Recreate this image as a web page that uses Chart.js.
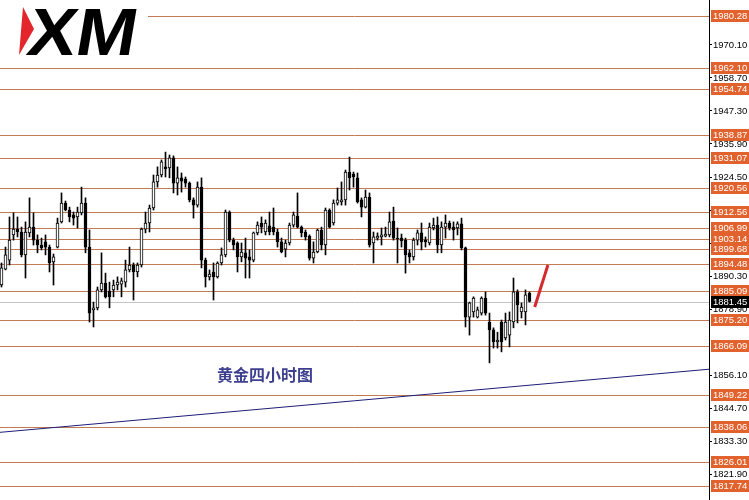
<!DOCTYPE html>
<html>
<head>
<meta charset="utf-8">
<script src="https://cdn.jsdelivr.net/npm/chart.js@4.4.0/dist/chart.umd.min.js"></script>
<style>
  html, body { margin: 0; padding: 0; background: #fff; }
  #wrap { width: 749px; height: 500px; position: relative; }
</style>
</head>
<body>
<div id="wrap"><canvas id="grafico-ouro"></canvas></div>
<script>
// DADOS - velas de 4 horas (abertura, maxima, minima, fechamento)
const opens = [1887.2,1892.7,1895.8,1904.5,1906.5,1905.5,1897.6,1905.2,1907.2,1902.7,1901.0,1902.1,1900.3,1895.2,1900.3,1909.0,1915.5,1913.1,1911.4,1910.7,
  1912.1,1915.5,1900.3,1878.6,1879.3,1885.5,1887.9,1885.1,1885.5,1887.2,1887.5,1888.2,1892.4,1894.1,1891.7,1894.1,1906.5,1908.6,1913.8,1922.8,
  1925.2,1928.0,1927.6,1931.1,1922.4,1924.2,1923.8,1922.4,1916.6,1914.8,1921.0,1895.8,1890.0,1891.7,1890.0,1894.8,1897.6,1912.4,1902.7,1901.7,
  1896.9,1898.3,1896.9,1895.8,1905.2,1908.6,1905.5,1907.6,1907.2,1905.5,1902.1,1899.6,1901.7,1907.9,1911.0,1907.2,1905.5,1904.1,1896.5,1898.6,
  1906.2,1901.0,1913.1,1908.6,1915.5,1915.9,1916.6,1926.2,1925.5,1924.2,1916.6,1914.1,1917.6,1901.7,1903.4,1903.8,1904.1,1904.5,1909.3,1903.4,
  1903.4,1902.7,1898.3,1896.9,1902.7,1905.2,1902.7,1901.7,1906.9,1907.9,1901.0,1907.2,1908.6,1907.2,1906.9,1908.3,1900.0,1876.1,1877.9,1876.1,
  1877.5,1882.7,1874.4,1871.7,1867.5,1874.4,1868.9,1869.9,1874.4,1884.8,1877.9,1877.9,1884.4];
const highs = [1894.8,1900.3,1910.7,1912.1,1910.7,1907.2,1909.0,1917.3,1912.1,1904.5,1903.4,1904.5,1901.0,1897.9,1910.3,1919.0,1916.2,1914.1,1912.4,1914.1,
  1921.0,1917.3,1906.2,1881.3,1886.5,1898.3,1891.3,1888.2,1888.9,1890.0,1889.6,1895.8,1900.3,1894.8,1894.8,1906.9,1912.4,1914.8,1925.2,1928.0,
  1930.4,1933.1,1932.1,1931.8,1928.0,1925.9,1924.5,1922.8,1917.3,1922.8,1924.2,1896.5,1892.4,1894.8,1895.2,1900.0,1913.1,1912.8,1903.4,1902.1,
  1901.7,1903.4,1899.3,1905.5,1909.0,1910.7,1909.7,1912.4,1913.8,1906.5,1903.4,1902.7,1908.6,1912.4,1919.0,1907.6,1906.2,1904.5,1902.1,1906.5,
  1907.2,1913.8,1913.5,1916.6,1920.7,1922.8,1926.9,1931.4,1926.2,1925.9,1917.3,1920.0,1919.0,1905.5,1905.2,1906.9,1907.2,1912.4,1914.1,1906.9,
  1904.8,1903.4,1899.3,1903.4,1906.2,1908.6,1903.8,1908.6,1910.3,1910.7,1909.0,1911.4,1909.3,1909.0,1909.0,1910.3,1900.3,1881.3,1883.1,1879.6,
  1883.1,1884.8,1877.5,1872.4,1870.9,1875.1,1877.5,1877.9,1889.6,1885.5,1881.0,1885.5,1884.8];
const lows = [1886.5,1892.4,1894.1,1902.7,1903.8,1896.9,1889.6,1903.8,1901.0,1898.3,1899.3,1897.6,1891.7,1887.2,1900.0,1908.6,1912.8,1909.0,1907.9,1906.9,
  1911.4,1898.3,1874.4,1872.7,1878.6,1884.8,1882.7,1879.3,1883.1,1885.5,1883.1,1886.5,1891.7,1882.0,1890.0,1893.4,1905.2,1905.5,1913.1,1921.0,
  1924.5,1924.5,1924.2,1919.0,1918.3,1919.3,1921.0,1915.9,1910.3,1914.1,1893.1,1886.5,1888.9,1882.0,1889.6,1894.1,1896.9,1902.1,1899.3,1891.7,
  1895.2,1889.6,1889.6,1895.2,1904.5,1905.2,1904.5,1904.5,1904.5,1900.3,1898.3,1896.9,1901.0,1907.2,1906.9,1903.8,1902.7,1895.8,1894.8,1898.3,
  1899.3,1897.6,1906.9,1907.9,1914.8,1914.8,1914.8,1920.0,1921.0,1915.5,1910.7,1913.8,1900.3,1894.8,1902.7,1901.0,1903.8,1903.8,1902.7,1894.8,
  1900.3,1891.3,1894.8,1895.8,1901.0,1899.3,1900.3,1901.0,1906.2,1898.3,1898.3,1903.4,1906.2,1902.7,1904.5,1899.3,1872.7,1869.9,1876.1,1875.8,
  1876.8,1876.8,1860.3,1865.4,1865.4,1864.1,1868.2,1865.8,1872.4,1874.1,1875.8,1873.4,1881.3];
const closes = [1893.1,1897.6,1902.7,1906.5,1905.5,1897.6,1905.5,1907.2,1902.7,1901.0,1900.0,1900.3,1894.8,1896.9,1908.6,1915.5,1913.1,1910.7,1910.3,1912.4,
  1915.5,1900.3,1877.5,1879.3,1885.5,1887.9,1883.1,1883.1,1887.2,1888.2,1888.6,1892.4,1894.1,1891.7,1894.1,1906.5,1908.6,1913.8,1922.8,1925.2,
  1929.7,1927.3,1931.1,1922.4,1924.2,1923.1,1922.4,1916.6,1914.8,1921.0,1895.8,1890.0,1891.0,1890.0,1894.8,1897.6,1912.4,1902.7,1901.0,1896.9,
  1898.6,1896.5,1895.8,1905.2,1907.9,1907.2,1908.6,1905.5,1905.5,1902.1,1898.6,1901.7,1907.9,1911.4,1907.2,1905.2,1903.8,1896.5,1898.6,1906.2,
  1901.0,1913.1,1907.2,1915.5,1916.6,1916.6,1926.2,1924.2,1924.5,1915.9,1914.1,1917.6,1901.0,1903.8,1904.1,1904.5,1904.8,1909.0,1903.4,1903.1,
  1902.4,1897.6,1896.9,1902.7,1905.2,1902.1,1902.1,1907.2,1907.9,1901.0,1907.2,1908.6,1906.9,1906.2,1908.3,1900.0,1876.1,1881.0,1882.7,1878.6,
  1882.7,1877.5,1871.7,1867.5,1868.2,1867.5,1874.4,1875.1,1884.8,1880.3,1879.6,1883.8,1881.5];

// niveis de suporte / resistencia
const levels = [1980.28,1962.10,1954.74,1938.87,1931.07,1920.56,1912.56,1906.99,1903.14,1899.68,1894.48,1885.09,1875.20,1866.09,1849.22,1838.06,1826.01,1817.74];
const lastPrice = 1881.45;
const tickVals = [1970.10,1958.70,1947.30,1935.90,1924.50,1913.10,1901.70,1890.30,1878.90,1856.10,1844.70,1833.30,1821.90];

// linha de tendencia azul e seta vermelha (x = indice da vela)
const trendX = [-0.375, 176.875];
const trendY = [1836.3, 1858.1];
const arrowX = [133.3, 136.6];
const arrowY = [1879.6, 1894.1];

const titulo = '黄金四小时图';

const idx = opens.map((_, i) => i);

const linhas = {
  id: 'linhas',
  beforeDatasetsDraw(chart) {
    const { ctx, chartArea: a, scales: { y } } = chart;
    ctx.save();
    ctx.lineWidth = 1;
    ctx.strokeStyle = '#c27a52';
    levels.forEach(v => {
      const py = Math.round(y.getPixelForValue(v)) + 0.5;
      ctx.beginPath(); ctx.moveTo(a.left, py); ctx.lineTo(a.right, py); ctx.stroke();
    });
    const pg = Math.round(y.getPixelForValue(lastPrice)) + 0.5;
    ctx.strokeStyle = '#c4c4c4';
    ctx.beginPath(); ctx.moveTo(a.left, pg); ctx.lineTo(a.right, pg); ctx.stroke();
    ctx.restore();
  },
  afterDraw(chart) {
    const { ctx, chartArea: a, scales: { y } } = chart;
    ctx.save();
    ctx.font = '9.5px "Liberation Sans"';
    ctx.textBaseline = 'middle';
    ctx.textAlign = 'left';
    const caixa = (v, cor) => {
      const py = Math.round(y.getPixelForValue(v));
      ctx.fillStyle = cor;
      ctx.fillRect(a.right + 2, py - 6, chart.width - a.right - 2, 12);
      ctx.fillStyle = '#fff';
      ctx.fillText(v.toFixed(2), a.right + 4, py + 0.5);
    };
    levels.forEach(v => caixa(v, '#e2622d'));
    caixa(lastPrice, '#000');

    // logo XM
    ctx.fillStyle = '#fff';
    ctx.fillRect(0, 0, 148, 62);
    ctx.fillStyle = '#e3262b';
    ctx.beginPath();
    ctx.moveTo(23, 7); ctx.lineTo(34, 29); ctx.lineTo(19, 55); ctx.closePath();
    ctx.fill();
    ctx.save();
    ctx.translate(25, 55);
    ctx.transform(1.08, 0, -0.17, 1, 0, 0);
    ctx.fillStyle = '#000';
    ctx.font = 'bold 67px "Liberation Sans"';
    ctx.textBaseline = 'alphabetic';
    ctx.fillText('XM', 0, 0);
    ctx.restore();

    // titulo
    ctx.fillStyle = '#3d3f8f';
    ctx.font = 'bold 16px "Noto Sans CJK SC"';
    ctx.textBaseline = 'middle';
    ctx.fillText(titulo, 217, 375);
    ctx.restore();
  }
};

const ctx = document.getElementById('grafico-ouro');

new Chart(ctx, {
  type: 'bar',
  data: {
    datasets: [
      {
        type: 'line',
        data: trendX.map((x, i) => ({ x: x, y: trendY[i] })),
        borderColor: '#1d1d78',
        borderWidth: 1,
        pointRadius: 0,
        order: 0
      },
      {
        type: 'line',
        data: arrowX.map((x, i) => ({ x: x, y: arrowY[i] })),
        borderColor: '#d42a2e',
        borderWidth: 3,
        pointRadius: 0,
        order: 0
      },
      {
        label: 'corpo',
        data: idx.map(i => ({ x: i, y: [opens[i], closes[i]] })),
        backgroundColor: idx.map(i => closes[i] >= opens[i] ? '#fff' : '#000'),
        borderColor: '#000',
        borderWidth: 1,
        borderSkipped: false,
        barThickness: 3,
        minBarLength: 1,
        grouped: false,
        order: 1
      },
      {
        label: 'pavio',
        data: idx.map(i => ({ x: i, y: [lows[i], highs[i]] })),
        backgroundColor: '#000',
        borderWidth: 0,
        barThickness: 1,
        grouped: false,
        order: 2
      }
    ]
  },
  options: {
    responsive: true,
    maintainAspectRatio: false,
    animation: false,
    layout: { padding: 0 },
    plugins: { legend: { display: false }, tooltip: { enabled: false } },
    scales: {
      x: {
        type: 'linear',
        display: false,
        min: -0.375,
        max: 176.875,
        offset: false
      },
      y: {
        position: 'right',
        min: 1812.93,
        max: 1985.64,
        afterBuildTicks: s => { s.ticks = tickVals.map(v => ({ value: v })); },
        afterFit: s => { s.width = 40; s.paddingTop = 0; s.paddingBottom = 0; },
        ticks: {
          color: '#000',
          padding: 1,
          font: { family: 'Liberation Sans', size: 9.5 },
          callback: v => v.toFixed(2)
        },
        grid: { drawOnChartArea: false, drawTicks: true, tickLength: 3, color: '#000' },
        border: { display: true, color: '#000' }
      }
    }
  },
  plugins: [linhas]
});
</script>
</body>
</html>
